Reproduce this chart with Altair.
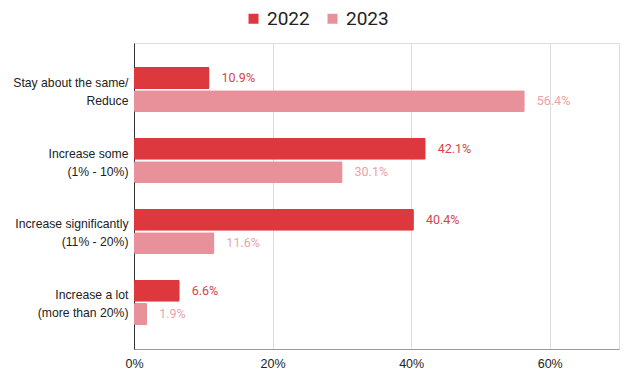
import altair as alt
import pandas as pd

categories = ["Stay about the same/|Reduce", "Increase some|(1% - 10%)",
              "Increase significantly|(11% - 20%)", "Increase a lot|(more than 20%)"]
years = ["2022", "2023"]
values_2022 = [10.9, 42.1, 40.4, 6.6]
values_2023 = [56.4, 30.1, 11.6, 1.9]
x_ticks = [0, 20, 40, 60]
colors = ["#dc383d", "#e8919a"]
label_colors = ["#d8434a", "#eba3a9"]

rows = []
for i, c in enumerate(categories):
    rows.append({"cat": c, "year": "2022", "value": values_2022[i]})
    rows.append({"cat": c, "year": "2023", "value": values_2023[i]})
df = pd.DataFrame(rows)

y_enc = alt.Y("cat:N", sort=categories, title=None,
              scale=alt.Scale(paddingInner=0.366, paddingOuter=0.34),
              axis=alt.Axis(labelExpr="split(datum.label, '|')", labelFont="Liberation Sans",
                            labelFontSize=12.2, labelColor="#222", labelLineHeight=18,
                            labelOffset=-7,
                            ticks=False, labelPadding=6, domainColor="#333", domainWidth=1,
                            grid=False))
yoff = alt.YOffset("year:N", scale=alt.Scale(paddingInner=0.06))
x_enc = alt.X("value:Q", title=None,
              scale=alt.Scale(domain=[0, 70], nice=False),
              axis=alt.Axis(values=x_ticks, labelExpr="datum.value + '%'", ticks=False,
                            labelFlush=False,
                            labelFont="Liberation Sans", labelFontSize=12.5, labelColor="#222",
                            labelPadding=8, domainColor="#999", gridColor="#ddd", grid=True))

bars = alt.Chart(df).mark_bar(cornerRadius=1.5).encode(
    y=y_enc, yOffset=yoff, x=x_enc,
    color=alt.Color("year:N", scale=alt.Scale(domain=years, range=colors),
                    legend=alt.Legend(title=None, orient="none", direction="horizontal",
                                      legendX=110, legendY=-34, symbolType="square",
                                      symbolSize=100, labelFont="Roboto", labelFontSize=19,
                                      labelColor="#222", columnPadding=13, symbolOpacity=1,
                                      labelOffset=4)),
)

text = alt.Chart(df).mark_text(align="left", baseline="middle", dx=12, font="Roboto",
                               fontSize=12.5).encode(
    y=alt.Y("cat:N", sort=categories), yOffset=yoff, x="value:Q",
    text=alt.Text("label:N"),
    color=alt.Color("year:N", scale=alt.Scale(domain=years, range=label_colors), legend=None),
).transform_calculate(label="format(datum.value, '.1f') + '%'")

chart = alt.layer(bars, text).resolve_scale(color="independent").properties(
    width=485, height=306,
    autosize=alt.AutoSizeParams(type="none"),
    padding={"left": 126, "top": 35, "right": 13, "bottom": 22},
).configure_view(stroke=None).configure(background="white")

chart.save("out.html", embed_options={"renderer": "svg", "actions": False})
